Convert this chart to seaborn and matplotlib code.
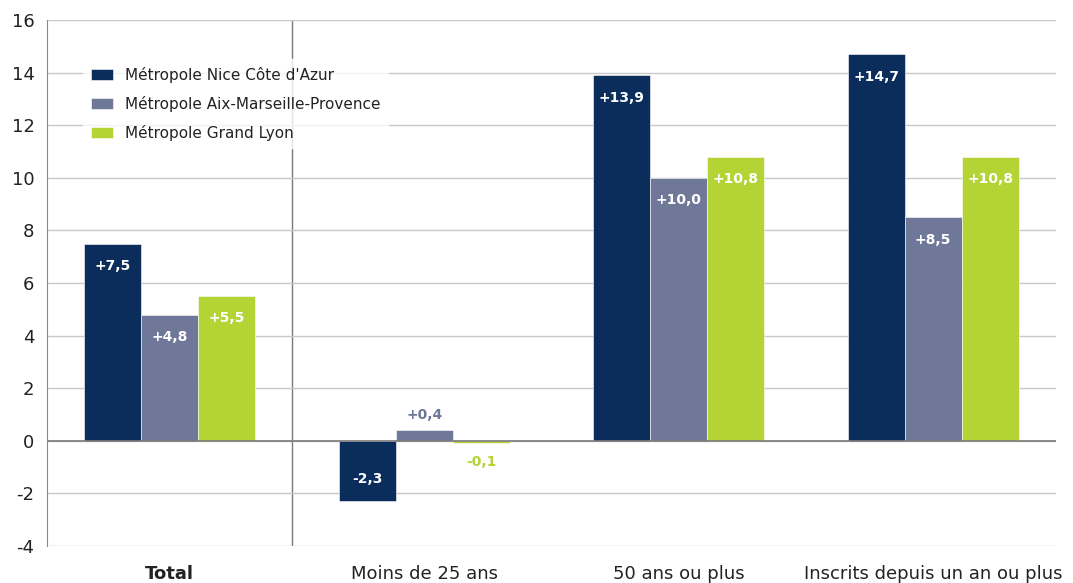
#!/usr/bin/env python3
"""Evolution des demandeurs d'emploi par métropole - grouped bars."""

import matplotlib
matplotlib.use("Agg")
import matplotlib.pyplot as plt
import seaborn as sns
import pandas as pd

categories = ["Total", "Moins de 25 ans", "50 ans ou plus", "Inscrits depuis un an ou plus"]
metropoles = ["Métropole Nice Côte d'Azur", "Métropole Aix-Marseille-Provence", "Métropole Grand Lyon"]
nice = [7.5, -2.3, 13.9, 14.7]
aix = [4.8, 0.4, 10.0, 8.5]
lyon = [5.5, -0.1, 10.8, 10.8]
colors = ["#0b2d5b", "#6f7899", "#b4d334"]

rows = []
for metro, vals in zip(metropoles, [nice, aix, lyon]):
    for cat, v in zip(categories, vals):
        rows.append({"cat": cat, "val": v, "metro": metro})
df = pd.DataFrame(rows)

sns.set_style("white")
plt.rcParams['font.family'] = ['DejaVu Sans']
plt.rcParams['axes.unicode_minus'] = False

fig = plt.figure(figsize=(10.73, 5.83), dpi=100)
ax = fig.add_axes([0.0438, 0.0635, 0.9402, 0.9022])

sns.barplot(data=df, x="cat", y="val", hue="metro", palette=colors,
            order=categories, hue_order=metropoles, width=0.672,
            saturation=1, edgecolor="white", linewidth=0.4, ax=ax, legend=True)

ax.set_ylim(-4, 16)
ax.set_xlim(-0.482, 3.482)
ax.set_yticks(range(-4, 17, 2))
ax.yaxis.grid(True, color="#c8c8c8", linewidth=1)
ax.set_axisbelow(True)
ax.axhline(0, color="#7a7a7a", linewidth=1.2, zorder=1.5)
ax.axvline(0.48, color="#7a7a7a", linewidth=1, zorder=0.5)

for side in ["top", "right", "bottom"]:
    ax.spines[side].set_visible(False)
ax.spines["left"].set_color("#8a8a8a")
ax.tick_params(axis="y", length=7, color="#c8c8c8", labelsize=13, labelcolor="#222222", pad=2)
ax.tick_params(axis="x", length=0, labelsize=13, labelcolor="#222222", pad=14)
ax.set_xlabel("")
ax.set_ylabel("")
ax.get_xticklabels()[0].set_fontweight("bold")

# value labels
for color, cont in zip(colors, ax.containers):
    for bar in cont:
        v = bar.get_height()
        txt = f"{v:+.1f}".replace(".", ",")
        xc = bar.get_x() + bar.get_width() / 2
        if abs(v) < 1:
            y = v + 0.58 if v > 0 else v - 0.7
            ax.text(xc, y, txt, ha="center", va="center", color=color,
                    fontsize=10, fontweight="bold")
        else:
            y = v - 0.85 if v > 0 else v + 0.85
            ax.text(xc, y, txt, ha="center", va="center", color="white",
                    fontsize=10, fontweight="bold")

leg = ax.legend(loc="upper left", bbox_to_anchor=(0.028, 0.94), frameon=True,
                fontsize=11, handlelength=1.5, handleheight=0.75,
                labelspacing=0.85, borderpad=0.5, handletextpad=0.75)
leg.get_frame().set_facecolor("white")
leg.get_frame().set_edgecolor("white")
leg.get_frame().set_boxstyle("square", pad=0)
for t in leg.get_texts():
    t.set_color("#222222")

plt.savefig("out.png", dpi=100)
